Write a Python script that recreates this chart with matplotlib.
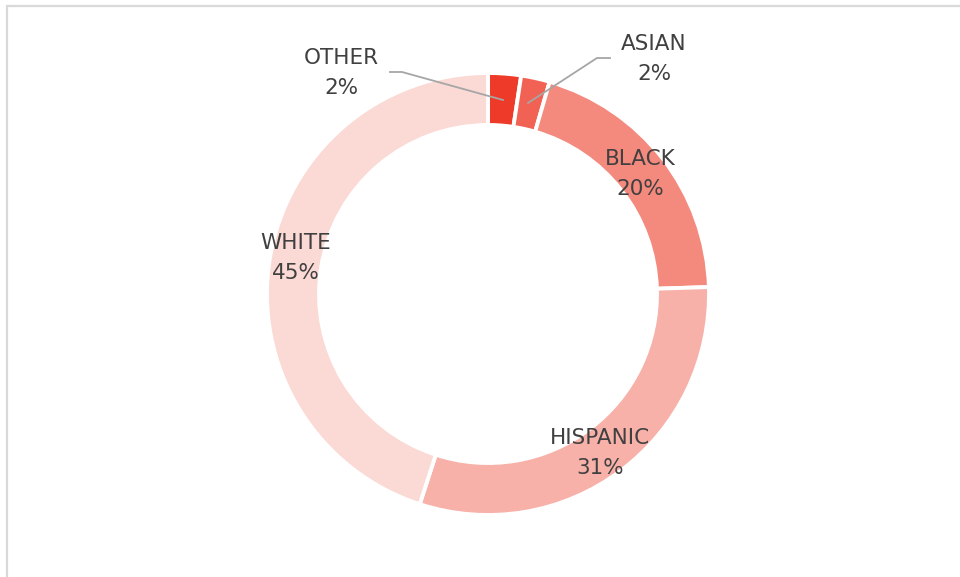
import matplotlib.pyplot as plt
from matplotlib.patches import Rectangle

W, H = 960, 577

# data
groups = ["OTHER", "ASIAN", "BLACK", "HISPANIC", "WHITE"]
shares = [2.4, 2.1, 20.0, 30.5, 45.0]
pct_labels = ["2%", "2%", "20%", "31%", "45%"]
colors = ["#EE3A28", "#F26254", "#F4897D", "#F7B1A9", "#FBD9D5"]

fig = plt.figure(figsize=(W / 100, H / 100), dpi=100)
ax = fig.add_axes([0, 0, 1, 1])
ax.axis("off")

cx, cy = 488, H - 294
r_out, r_in = 221, 169

ax.pie(shares, colors=colors, startangle=90, counterclock=False,
       center=(cx, cy), radius=r_out,
       wedgeprops=dict(width=r_out - r_in, edgecolor="white", linewidth=2.8))
ax.set_xlim(0, W)
ax.set_ylim(0, H)
ax.set_aspect("equal")

# labels (pixel positions, top-left origin)
label_pos = {
    "OTHER": (341, 73),
    "ASIAN": (654, 59),
    "BLACK": (640, 174),
    "HISPANIC": (600, 453),
    "WHITE": (296, 258),
}
for g, p in zip(groups, pct_labels):
    x, y = label_pos[g]
    ax.text(x, H - y, g + "\n" + p, ha="center", va="center",
            fontsize=15.5, color="#404040", linespacing=1.6,
            family="DejaVu Sans")

# leader lines
lc = "#A6A6A6"
ax.plot([390, 402, 503], [H - 72, H - 72, H - 100], color=lc, lw=1.3)
ax.plot([610, 597, 528], [H - 58, H - 58, H - 103], color=lc, lw=1.3)

# outer frame (cut off at right and bottom)
fig.patches.append(Rectangle((7 / W, -0.1), 1.2, (H - 6) / H + 0.1,
                             transform=fig.transFigure, fill=False,
                             edgecolor="#D9D9D9", linewidth=1.6))

fig.savefig("out.png", dpi=100)
